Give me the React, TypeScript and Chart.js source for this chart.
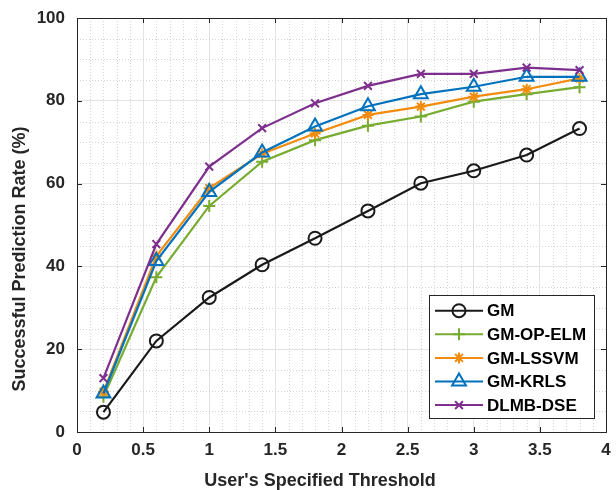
import React, { useEffect, useRef } from "react";
import { Chart, registerables } from "chart.js";
import { drawPoint } from "chart.js/helpers";

Chart.register(...registerables);

const thresholds = [0.2, 0.6, 1.0, 1.4, 1.8, 2.2, 2.6, 3.0, 3.4, 3.8];
const gm = [4.8, 22.0, 32.5, 40.4, 46.8, 53.4, 60.1, 63.1, 66.9, 73.3];
const gmOpElm = [8.5, 37.4, 54.6, 65.3, 70.5, 74.0, 76.2, 79.8, 81.6, 83.3];
const gmLssvm = [9.7, 42.5, 58.9, 67.2, 72.1, 76.6, 78.6, 81.0, 82.8, 85.4];
const gmKrls = [9.3, 41.3, 58.0, 67.5, 73.8, 78.7, 81.6, 83.4, 85.8, 85.8];
const dlmbDse = [13.0, 45.4, 64.1, 73.4, 79.4, 83.6, 86.5, 86.5, 88.0, 87.4];

const seriesNames = ["GM", "GM-OP-ELM", "GM-LSSVM", "GM-KRLS", "DLMB-DSE"];
const seriesValues = [gm, gmOpElm, gmLssvm, gmKrls, dlmbDse];
const seriesColors = ["#1a1a1a", "#77AC30", "#F28C0F", "#0072BD", "#7E2F8E"];
const seriesMarkers = ["circle", "cross", "star", "triangle", "crossRot"];
const markerRadius = [6.5, 6, 5.5, 8, 5.5];

const xTickValues = [0, 0.5, 1, 1.5, 2, 2.5, 3, 3.5, 4];
const xTickLabels = ["0", "0.5", "1", "1.5", "2", "2.5", "3", "3.5", "4"];
const yTickValues = [0, 20, 40, 60, 80, 100];
const yTickLabels = ["0", "20", "40", "60", "80", "100"];
const xMinorStep = 0.1;
const yMinorStep = 5;

const xTitle = "User's Specified Threshold";
const yTitle = "Successful Prediction Rate (%)";

const FONT = "'Liberation Sans', Arial, Helvetica, sans-serif";

const decorPlugin = {
  id: "decor",
  beforeDatasetsDraw(chart: any) {
    const { ctx, chartArea: a, scales } = chart;
    const xs = scales.x;
    const ys = scales.y;
    ctx.save();
    ctx.strokeStyle = "#d4d4d4";
    ctx.lineWidth = 1;
    ctx.setLineDash([1, 2]);
    for (let i = 0; i <= 40; i++) {
      const v = i * xMinorStep;
      if (Math.abs(v / 0.5 - Math.round(v / 0.5)) < 1e-6) continue;
      const px = Math.round(xs.getPixelForValue(v)) + 0.5;
      ctx.beginPath();
      ctx.moveTo(px, a.top);
      ctx.lineTo(px, a.bottom);
      ctx.stroke();
    }
    for (let i = 0; i <= 20; i++) {
      const v = i * yMinorStep;
      if (v % 20 === 0) continue;
      const py = Math.round(ys.getPixelForValue(v)) + 0.5;
      ctx.beginPath();
      ctx.moveTo(a.left, py);
      ctx.lineTo(a.right, py);
      ctx.stroke();
    }
    ctx.restore();
  },
  afterDraw(chart: any) {
    const { ctx, chartArea: a, scales } = chart;
    const xs = scales.x;
    const ys = scales.y;
    ctx.save();
    ctx.strokeStyle = "#262626";
    ctx.lineWidth = 1;
    ctx.setLineDash([]);
    ctx.strokeRect(Math.round(a.left) + 0.5, Math.round(a.top) + 0.5, Math.round(a.right - a.left), Math.round(a.bottom - a.top));
    const tl = 5;
    ctx.beginPath();
    for (const v of xTickValues) {
      const px = Math.round(xs.getPixelForValue(v)) + 0.5;
      ctx.moveTo(px, a.bottom);
      ctx.lineTo(px, a.bottom - tl);
      ctx.moveTo(px, a.top);
      ctx.lineTo(px, a.top + tl);
    }
    for (const v of yTickValues) {
      const py = Math.round(ys.getPixelForValue(v)) + 0.5;
      ctx.moveTo(a.left, py);
      ctx.lineTo(a.left + tl, py);
      ctx.moveTo(a.right, py);
      ctx.lineTo(a.right - tl, py);
    }
    ctx.stroke();

    ctx.fillStyle = "#262626";
    ctx.font = `bold 18px ${FONT}`;
    ctx.textAlign = "center";
    ctx.textBaseline = "alphabetic";
    ctx.fillText(xTitle, 320, 486);
    ctx.save();
    ctx.translate(25, 259);
    ctx.rotate(-Math.PI / 2);
    ctx.fillText(yTitle, 0, 0);
    ctx.restore();

    const lx = 429, ly = 295, lw = 165, lh = 123;
    ctx.fillStyle = "#ffffff";
    ctx.fillRect(lx, ly, lw, lh);
    ctx.strokeStyle = "#262626";
    ctx.lineWidth = 1;
    ctx.strokeRect(lx + 0.5, ly + 0.5, lw, lh);
    const rowY0 = 310.7;
    const rowStep = 23.6;
    chart.data.datasets.forEach((ds: any, i: number) => {
      const y = rowY0 + i * rowStep;
      ctx.strokeStyle = ds.borderColor;
      ctx.lineWidth = 2;
      ctx.beginPath();
      ctx.moveTo(435, y);
      ctx.lineTo(483, y);
      ctx.stroke();
      ctx.fillStyle = "rgba(0,0,0,0)";
      drawPoint(ctx, {
        pointStyle: ds.pointStyle,
        radius: ds.pointRadius,
        borderWidth: 2,
        rotation: 0,
      } as any, 459, y);
      ctx.fillStyle = "#000000";
      ctx.font = `bold 17px ${FONT}`;
      ctx.textAlign = "left";
      ctx.textBaseline = "middle";
      ctx.fillText(ds.label, 487, y + 1);
    });
    ctx.restore();
  },
};

export default function App() {
  const ref = useRef<HTMLCanvasElement | null>(null);
  useEffect(() => {
    if (!ref.current) return;
    const datasets = seriesNames.map((name, i) => ({
      label: name,
      data: thresholds.map((x, j) => ({ x, y: seriesValues[i][j] })),
      borderColor: seriesColors[i],
      backgroundColor: "rgba(0,0,0,0)",
      pointBorderColor: seriesColors[i],
      pointBackgroundColor: "rgba(0,0,0,0)",
      pointStyle: seriesMarkers[i],
      pointRadius: markerRadius[i],
      pointBorderWidth: 2,
      borderWidth: 2.2,
      tension: 0,
      order: seriesNames.length - i,
    }));
    const chart = new Chart(ref.current, {
      type: "line",
      data: { datasets },
      plugins: [decorPlugin],
      options: {
        responsive: false,
        animation: false,
        layout: { padding: { top: 18, right: 9, left: 0, bottom: 0 } },
        plugins: { legend: { display: false }, tooltip: { enabled: false } },
        scales: {
          x: {
            type: "linear",
            min: 0,
            max: 4,
            afterBuildTicks: (s: any) => {
              s.ticks = xTickValues.map((v) => ({ value: v }));
            },
            afterFit: (s: any) => {
              s.height = 58;
              s.paddingLeft = 0;
              s.paddingRight = 0;
            },
            ticks: {
              color: "#262626",
              font: { family: FONT, size: 17, weight: "bold" },
              padding: 8,
              maxRotation: 0,
              autoSkip: false,
              callback: (_v: any, i: number) => xTickLabels[i],
            },
            grid: { color: "#e3e3e3", drawTicks: false, lineWidth: 1 },
            border: { display: false },
          },
          y: {
            type: "linear",
            min: 0,
            max: 100,
            afterBuildTicks: (s: any) => {
              s.ticks = yTickValues.map((v) => ({ value: v }));
            },
            afterFit: (s: any) => {
              s.width = 77;
              s.paddingTop = 0;
              s.paddingBottom = 0;
            },
            ticks: {
              color: "#262626",
              font: { family: FONT, size: 17, weight: "bold" },
              padding: 12,
              autoSkip: false,
              callback: (_v: any, i: number) => yTickLabels[i],
            },
            grid: { color: "#e3e3e3", drawTicks: false, lineWidth: 1 },
            border: { display: false },
          },
        },
      },
    } as any);
    return () => chart.destroy();
  }, []);
  return (
    <div style={{ position: "fixed", left: 0, top: 0, width: 616, height: 490, background: "#fff" }}>
      <canvas ref={ref} width={616} height={490} style={{ display: "block" }} />
    </div>
  );
}
